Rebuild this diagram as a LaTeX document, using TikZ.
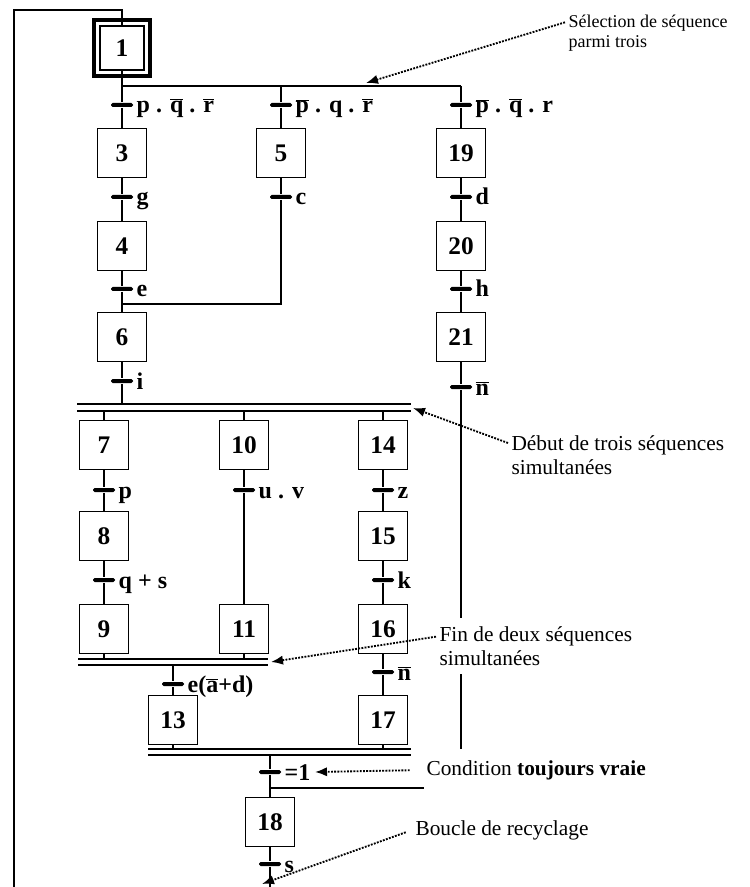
\documentclass[tikz,border=0pt]{standalone}
\usepackage{fontspec}
\setmainfont{Liberation Serif}
\usetikzlibrary{arrows.meta,calc}

\begin{document}
\begin{tikzpicture}[x=0.75pt, y=-0.75pt, line width=1.3pt,
	etape/.style={draw, minimum size=36.75pt, inner sep=0pt, font=\fontsize{19}{21}\selectfont\bfseries},
	trans/.style={fill, minimum width=16.5pt, minimum height=3pt, inner sep=0pt, rounded corners=1.3pt},
	recep/.style={anchor=base west, yshift=-6pt, inner sep=1.5pt, font=\fontsize{18}{20}\selectfont\bfseries},
	note/.style={fill=white, align=left, anchor=west, inner xsep=2pt, inner ysep=6.5pt, font=\fontsize{16}{18}\selectfont},
	fleche/.style={densely dotted, line width=1.4pt, -{Latex[length=9pt,width=7pt]}}]
	\useasboundingbox (0,0) rectangle (749,887);
	%\draw[dotted] (0,0) grid[step=50] (749,887);
	% etape initiale
	\node[etape, minimum size=33pt] (e1) at (122,48) {1};
	\draw[line width=2.5pt] ($(e1.north west)+(-3.75pt,3.75pt)$) rectangle ($(e1.south east)+(3.75pt,-3.75pt)$);
	% selection de sequence
	\node[trans, label={[recep]right:p . $\overline{\mbox{q}}$ . $\overline{\mbox{r}}$}] (t1) at (122,105) {};
	\node[trans, label={[recep]right:$\overline{\mbox{p}}$ . q . $\overline{\mbox{r}}$}] (t2) at (281,105) {};
	\node[trans, label={[recep]right:$\overline{\mbox{p}}$ . $\overline{\mbox{q}}$ . r}] (t3) at (461,105) {};
	\node[etape] (e3) at (122,153) {3};
	\node[etape] (e5) at (281,153) {5};
	\node[etape] (e19) at (461,153) {19};
	\node[trans, label={[recep]right:g}] (tg) at (122,197) {};
	\node[trans, label={[recep]right:c}] (tc) at (281,197) {};
	\node[trans, label={[recep]right:d}] (td) at (461,197) {};
	\node[etape] (e4) at (122,246) {4};
	\node[etape] (e20) at (461,246) {20};
	\node[trans, label={[recep]right:e}] (te) at (122,289) {};
	\node[trans, label={[recep]right:h}] (th) at (461,289) {};
	\node[etape] (e6) at (122,337) {6};
	\node[etape] (e21) at (461,337) {21};
	\node[trans, label={[recep]right:i}] (ti) at (122,381) {};
	\node[trans, label={[recep]right:$\overline{\mbox{n}}$}] (tn) at (461,387) {};
	% sequences simultanees
	\node[etape] (e7) at (104,445) {7};
	\node[etape] (e10) at (244,445) {10};
	\node[etape] (e14) at (383,445) {14};
	\node[trans, label={[recep]right:p}] (tp) at (104,490) {};
	\node[trans, label={[recep]right:u . v}] (tuv) at (244,490) {};
	\node[trans, label={[recep]right:z}] (tz) at (383,490) {};
	\node[etape] (e8) at (104,536) {8};
	\node[etape] (e15) at (383,536) {15};
	\node[trans, label={[recep]right:q + s}] (tqs) at (104,580) {};
	\node[trans, label={[recep]right:k}] (tk) at (383,580) {};
	\node[etape] (e9) at (104,629) {9};
	\node[etape] (e11) at (244,629) {11};
	\node[etape] (e16) at (383,629) {16};
	\node[trans, label={[recep]right:e($\overline{\mbox{a}}$+d)}] (tea) at (173,684) {};
	\node[trans, label={[recep]right:$\overline{\mbox{n}}$}] (tn2) at (383,672) {};
	\node[etape] (e13) at (173,720) {13};
	\node[etape] (e17) at (383,720) {17};
	\node[trans, label={[recep]right:=1}] (tun) at (270,772) {};
	\node[etape] (e18) at (270,822) {18};
	\node[trans, label={[recep]right:s}] (ts) at (270,864) {};
	% barres
	\coordinate (sel) at (461,86);
	\coordinate (pd) at (411,404);
	\coordinate (pdb) at (411,411);
	\coordinate (c1) at (268,659);
	\coordinate (c1b) at (268,665);
	\coordinate (c2) at (411,749);
	\coordinate (c2b) at (411,755);
	\coordinate (jc) at (281,304);
	\coordinate (jr) at (270,788);
	\coordinate (coin) at (14,10);
	\coordinate (boucle) at (14,887);
	\coordinate (fin) at (270,887);
	\draw (77,404) -- (pd) (77,411) -- (pdb);
	\draw (78,659) -- (c1) (78,665) -- (c1b);
	\draw (148,749) -- (c2) (148,755) -- (c2b);
	% liaisons
	\draw (boucle) -- (coin) -| (e1);
	\draw (e1) -- (e1 |- sel) -- (sel);
	\draw (t1 |- sel) -- (t1) -- (e3) -- (tg) -- (e4) -- (te) -- (e6) -- (ti) -- (ti |- pd);
	\draw (t2 |- sel) -- (t2) -- (e5) -- (tc) -- (jc) -- (jc -| e4);
	\draw (sel) -- (t3) -- (e19) -- (td) -- (e20) -- (th) -- (e21) -- (tn) -- (tn |- jr) -- (jr);
	\draw (e7 |- pdb) -- (e7) -- (tp) -- (e8) -- (tqs) -- (e9) -- (e9 |- c1);
	\draw (e10 |- pdb) -- (e10) -- (tuv) -- (e11) -- (e11 |- c1);
	\draw (e14 |- pdb) -- (e14) -- (tz) -- (e15) -- (tk) -- (e16) -- (tn2) -- (e17) -- (e17 |- c2);
	\draw (tea |- c1b) -- (tea) -- (e13) -- (e13 |- c2);
	\draw (tun |- c2b) -- (tun) -- (e18) -- (ts) -- (fin);
	% commentaires
	\node[note, font=\fontsize{13.5}{15}\selectfont] (selection) at (565,33) {Sélection de séquence\\parmi trois};
	\node[note] (debut) at (508,455) {Début de trois séquences\\simultanées};
	\node[note] (findeux) at (436,646) {Fin de deux séquences\\simultanées};
	\node[note, minimum height=31pt] (condition) at (423,770) {Condition \textbf{toujours vraie}};
	\node[note] (recyclage) at (412,830) {Boucle de recyclage};
	\coordinate (psel) at (366,83);
	\coordinate (pdeb) at (413,408);
	\coordinate (pfin) at (271,662);
	\coordinate (pcond) at (315,772);
	\coordinate (prec) at (262,884);
	\draw[fleche] ([yshift=8pt]selection.west) -- (psel);
	\draw[fleche] ([yshift=9pt]debut.west) -- (pdeb);
	\draw[fleche] ([yshift=7pt]findeux.west) -- (pfin);
	\draw[fleche, shorten <=10pt] (condition.west) -- (pcond);
	\draw[fleche, shorten <=5pt] (recyclage.west) -- (prec);
\end{tikzpicture}
\end{document}
